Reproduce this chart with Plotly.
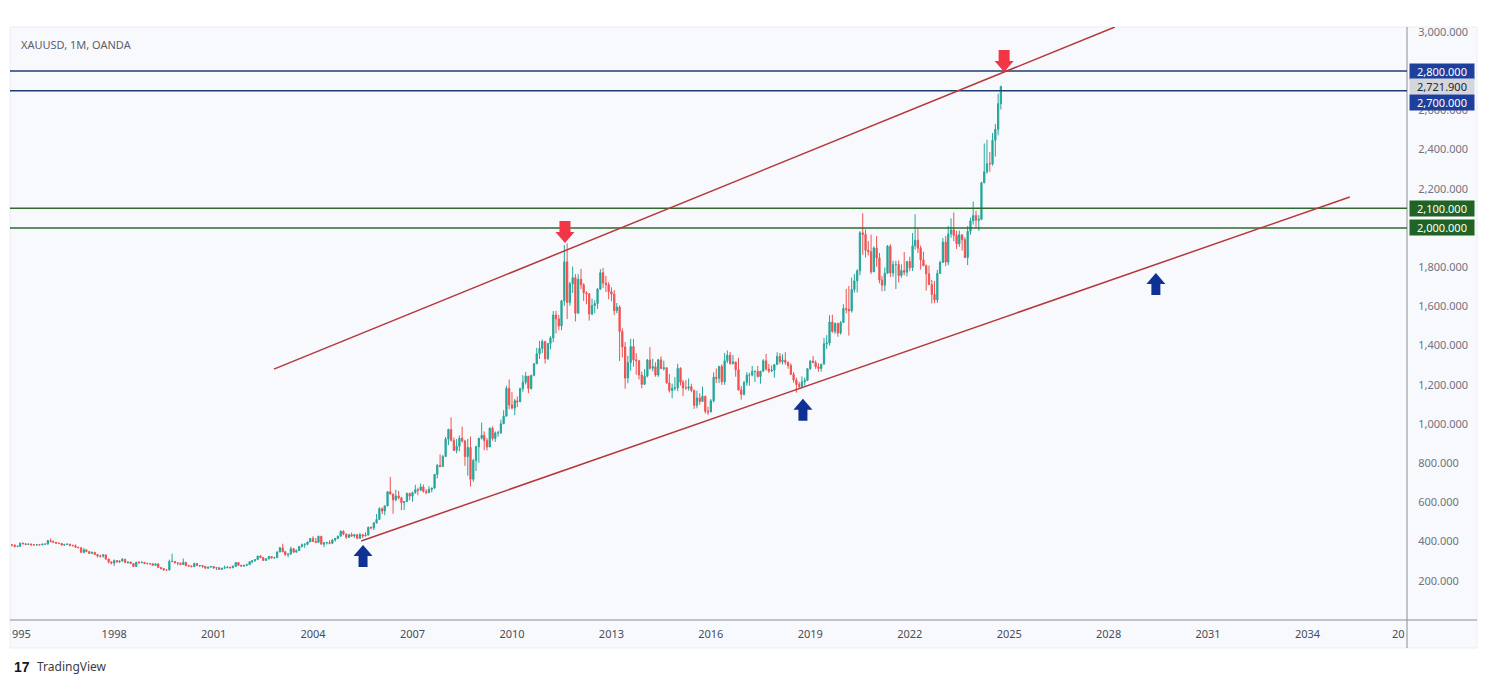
import pandas as pd
import plotly.graph_objects as go

# monthly XAUUSD candles, Nov 1994 .. Oct 2024 (open = previous close)
first_open = 384
close_px = [
    383, 383,
    375, 376, 391, 389, 385, 387, 383, 383, 384, 383, 387, 387,
    405, 400, 396, 392, 391, 382, 385, 387, 379, 379, 371, 369,
    345, 358, 349, 340, 345, 334, 326, 325, 332, 311, 296, 290,
    303, 297, 301, 310, 293, 296, 288, 273, 294, 292, 294, 288,
    287, 287, 279, 286, 268, 262, 255, 255, 299, 299, 292, 290,
    283, 294, 277, 275, 272, 288, 277, 278, 273, 264, 270, 273,
    265, 267, 258, 264, 267, 270, 266, 273, 293, 279, 275, 279,
    282, 297, 302, 308, 326, 318, 304, 312, 324, 317, 318, 347,
    368, 348, 334, 336, 364, 346, 354, 375, 384, 386, 398, 416,
    400, 396, 427, 387, 394, 395, 391, 408, 416, 428, 453, 438,
    422, 435, 428, 435, 417, 435, 429, 433, 473, 470, 495, 513,
    568, 556, 582, 654, 643, 613, 633, 623, 599, 604, 646, 632,
    650, 665, 662, 679, 656, 650, 666, 673, 743, 789, 783, 834,
    923, 972, 916, 865, 886, 928, 913, 833, 880, 718, 814, 884,
    927, 942, 916, 883, 978, 926, 954, 955, 1001, 1040, 1182, 1097,
    1081, 1118, 1113, 1180, 1213, 1244, 1181, 1248, 1307, 1358, 1385, 1421,
    1333, 1410, 1439, 1556, 1536, 1500, 1628, 1827, 1620, 1715, 1746, 1565,
    1738, 1710, 1669, 1664, 1561, 1604, 1614, 1688, 1772, 1719, 1711, 1675,
    1663, 1578, 1596, 1472, 1393, 1234, 1313, 1395, 1327, 1323, 1250, 1202,
    1244, 1326, 1284, 1292, 1250, 1327, 1282, 1287, 1210, 1171, 1182, 1184,
    1284, 1213, 1183, 1183, 1190, 1172, 1095, 1133, 1115, 1142, 1065, 1061,
    1118, 1238, 1233, 1293, 1215, 1322, 1351, 1309, 1316, 1277, 1173, 1151,
    1211, 1249, 1249, 1268, 1268, 1242, 1269, 1322, 1280, 1271, 1275, 1303,
    1345, 1318, 1325, 1315, 1298, 1253, 1224, 1201, 1192, 1215, 1222, 1282,
    1321, 1313, 1292, 1283, 1305, 1409, 1413, 1520, 1472, 1513, 1464, 1517,
    1589, 1585, 1577, 1686, 1730, 1781, 1975, 1967, 1886, 1879, 1776, 1898,
    1847, 1734, 1708, 1769, 1907, 1770, 1814, 1814, 1757, 1783, 1774, 1829,
    1797, 1909, 1937, 1897, 1837, 1807, 1766, 1711, 1661, 1633, 1768, 1824,
    1928, 1826, 1969, 1990, 1962, 1919, 1965, 1940, 1849, 1983, 2036, 2063,
    2039, 2044, 2230, 2286, 2327, 2326, 2447, 2503, 2634, 2721.9,
]
high_px = [
    389, 386,
    384, 380, 396, 396, 392, 391, 390, 388, 387, 386, 389, 389,
    409, 416, 406, 397, 395, 392, 389, 390, 388, 385, 385, 373,
    369, 367, 359, 352, 349, 345, 335, 333, 337, 335, 313, 298,
    309, 306, 303, 316, 311, 297, 298, 289, 298, 301, 300, 296,
    293, 291, 289, 290, 290, 269, 264, 259, 308, 338, 300, 293,
    292, 314, 295, 282, 278, 292, 291, 279, 278, 276, 271, 275,
    274, 269, 267, 266, 277, 274, 271, 279, 294, 293, 281, 281,
    287, 301, 304, 310, 327, 331, 322, 315, 327, 326, 323, 350,
    373, 389, 353, 341, 374, 365, 360, 376, 390, 392, 399, 417,
    427, 418, 430, 427, 395, 398, 407, 412, 419, 430, 456, 457,
    442, 439, 446, 439, 438, 444, 437, 447, 476, 478, 500, 541,
    575, 574, 584, 655, 730, 644, 664, 658, 628, 606, 650, 649,
    655, 690, 675, 696, 691, 667, 682, 675, 745, 796, 845, 842,
    934, 976, 1034, 931, 923, 941, 987, 918, 924, 936, 823, 889,
    929, 1007, 962, 928, 982, 988, 962, 965, 1022, 1070, 1195, 1227,
    1162, 1128, 1141, 1185, 1249, 1265, 1245, 1251, 1310, 1388, 1424, 1431,
    1424, 1412, 1448, 1576, 1577, 1556, 1632, 1913, 1921, 1725, 1803, 1764,
    1764, 1791, 1718, 1677, 1668, 1640, 1631, 1693, 1790, 1796, 1755, 1723,
    1697, 1683, 1617, 1605, 1488, 1418, 1348, 1434, 1434, 1361, 1325, 1267,
    1280, 1332, 1392, 1332, 1315, 1332, 1345, 1323, 1287, 1255, 1206, 1239,
    1307, 1289, 1224, 1224, 1232, 1205, 1174, 1170, 1157, 1191, 1142, 1088,
    1127, 1263, 1283, 1297, 1304, 1362, 1375, 1367, 1352, 1318, 1338, 1193,
    1220, 1264, 1261, 1296, 1273, 1296, 1271, 1331, 1358, 1306, 1299, 1306,
    1366, 1362, 1356, 1366, 1318, 1309, 1265, 1237, 1214, 1243, 1237, 1284,
    1326, 1347, 1324, 1310, 1306, 1439, 1453, 1555, 1557, 1517, 1516, 1525,
    1611, 1689, 1704, 1747, 1765, 1789, 1984, 2075, 1992, 1933, 1966, 1906,
    1959, 1872, 1755, 1798, 1913, 1917, 1833, 1832, 1834, 1814, 1877, 1831,
    1853, 1974, 2070, 1998, 1910, 1879, 1814, 1808, 1735, 1730, 1786, 1833,
    1949, 1959, 2009, 2049, 2079, 1985, 1987, 1949, 1953, 2009, 2052, 2135,
    2088, 2065, 2236, 2431, 2450, 2387, 2484, 2531, 2685, 2725,
]
low_px = [
    380, 375,
    370, 371, 372, 386, 382, 385, 381, 380, 381, 381, 382, 384,
    386, 397, 394, 389, 389, 380, 381, 384, 378, 377, 369, 366,
    342, 340, 347, 337, 337, 334, 318, 318, 319, 306, 289, 284,
    276, 292, 291, 299, 292, 287, 287, 272, 273, 287, 291, 285,
    284, 284, 278, 278, 266, 258, 252, 251, 253, 295, 288, 279,
    280, 283, 276, 272, 270, 271, 276, 270, 266, 263, 263, 267,
    262, 255, 255, 256, 262, 264, 264, 265, 271, 277, 271, 272,
    276, 281, 288, 297, 306, 315, 302, 301, 309, 313, 313, 317,
    346, 346, 326, 320, 334, 343, 343, 352, 370, 368, 381, 397,
    398, 392, 393, 385, 371, 385, 386, 387, 400, 413, 424, 432,
    414, 418, 425, 419, 413, 414, 418, 426, 432, 463, 459, 492,
    513, 540, 535, 580, 639, 542, 605, 616, 560, 561, 603, 611,
    603, 644, 636, 660, 650, 642, 647, 651, 669, 722, 779, 781,
    834, 892, 911, 862, 850, 860, 905, 786, 736, 681, 705, 760,
    802, 921, 866, 865, 884, 915, 908, 935, 949, 1000, 1039, 1075,
    1074, 1045, 1086, 1113, 1164, 1201, 1157, 1175, 1243, 1307, 1332, 1361,
    1308, 1326, 1381, 1417, 1462, 1478, 1478, 1603, 1535, 1603, 1668, 1523,
    1563, 1688, 1627, 1611, 1527, 1555, 1565, 1587, 1684, 1694, 1673, 1636,
    1626, 1555, 1565, 1321, 1339, 1180, 1208, 1271, 1292, 1251, 1227, 1182,
    1202, 1238, 1277, 1268, 1241, 1240, 1281, 1273, 1205, 1160, 1131, 1170,
    1167, 1196, 1142, 1175, 1170, 1162, 1077, 1080, 1098, 1111, 1053, 1046,
    1061, 1110, 1208, 1208, 1199, 1200, 1310, 1302, 1303, 1241, 1171, 1124,
    1146, 1195, 1195, 1243, 1214, 1237, 1205, 1266, 1273, 1260, 1264, 1236,
    1302, 1307, 1303, 1302, 1282, 1251, 1211, 1160, 1180, 1182, 1196, 1221,
    1276, 1311, 1281, 1266, 1267, 1305, 1382, 1400, 1465, 1459, 1445, 1456,
    1517, 1564, 1451, 1568, 1670, 1671, 1758, 1863, 1849, 1860, 1764, 1776,
    1802, 1717, 1677, 1678, 1766, 1750, 1751, 1688, 1722, 1746, 1758, 1753,
    1780, 1780, 1890, 1872, 1787, 1805, 1681, 1709, 1615, 1617, 1617, 1765,
    1823, 1805, 1810, 1950, 1932, 1893, 1903, 1885, 1846, 1810, 1965, 2017,
    2002, 1985, 2039, 2229, 2277, 2287, 2318, 2364, 2472, 2604,
]
open_px = [first_open] + close_px[:-1]
months = pd.date_range("1994-11-01", periods=len(close_px), freq="MS")

# drawn levels and trend channel
blue_levels = [2800, 2700]
green_levels = [2100, 2000]
upper_trend = [("2002-10-27", 1280), ("2028-03-10", 3025)]
lower_trend = [("2005-06-14", 403), ("2035-04-12", 2158)]
red_arrows = [("2011-08-08", 1923), ("2024-11-06", 2796)]
blue_arrows = [("2005-07-05", 383), ("2018-10-12", 1128), ("2029-06-05", 1770)]

year_ticks = list(range(1998, 2035, 3))
price_ticks = [200, 400, 600, 800, 1000, 1200, 1400, 1600, 1800, 2200, 2400, 2600, 3000]

FONT = "Noto Sans"
BG = "#f8f9fd"

fig = go.Figure()
fig.add_trace(go.Candlestick(
    x=months, open=open_px, high=high_px, low=low_px, close=close_px,
    increasing=dict(line=dict(color="#26a69a", width=1), fillcolor="#26a69a"),
    decreasing=dict(line=dict(color="#ef5350", width=1), fillcolor="#ef5350"),
    whiskerwidth=0, hoverinfo="skip", showlegend=False,
))

shapes = []
# panel background that also covers the axis strips
shapes.append(dict(type="rect", xref="paper", yref="paper", x0=0, x1=1.0501,
                   y0=-0.0472, y1=1, fillcolor=BG, line=dict(color="#eceef3", width=1),
                   layer="below"))
shapes.append(dict(type="line", xref="paper", yref="paper", x0=1, x1=1, y0=-0.0472, y1=1,
                   line=dict(color="#8a8d94", width=1)))
shapes.append(dict(type="line", xref="paper", yref="paper", x0=0, x1=1.0501, y0=0, y1=0,
                   line=dict(color="#8a8d94", width=1)))

for lv in blue_levels:
    shapes.append(dict(type="line", xref="x domain", yref="y", x0=0, x1=1, y0=lv, y1=lv,
                       line=dict(color="#1f3c70", width=1.5)))
for lv in green_levels:
    shapes.append(dict(type="line", xref="x domain", yref="y", x0=0, x1=1, y0=lv, y1=lv,
                       line=dict(color="#2c6a2e", width=1.5)))
for tr in (upper_trend, lower_trend):
    shapes.append(dict(type="line", xref="x", yref="y", x0=tr[0][0], y0=tr[0][1],
                       x1=tr[1][0], y1=tr[1][1], line=dict(color="#b5373a", width=1.5)))

down_path = "M -5.5,22 L 5.5,22 L 5.5,11 L 9.5,11 L 0,0 L -9.5,11 L -5.5,11 Z"
up_path = "M 0,0 L 9.5,-11 L 4.5,-11 L 4.5,-22 L -4.5,-22 L -4.5,-11 L -9.5,-11 Z"
for d, p in red_arrows:
    shapes.append(dict(type="path", xref="x", yref="y", xsizemode="pixel", ysizemode="pixel",
                       xanchor=d, yanchor=p, path=down_path, fillcolor="#f23645",
                       line=dict(width=0)))
for d, p in blue_arrows:
    shapes.append(dict(type="path", xref="x", yref="y", xsizemode="pixel", ysizemode="pixel",
                       xanchor=d, yanchor=p, path=up_path, fillcolor="#0e3193",
                       line=dict(width=0)))

annotations = []
label_boxes = [
    (2800, "2,800.000", "#1e3f9c", "white", 0),
    (2721.9, "2,721.900", "#d4d6dc", "#202430", 0),
    (2700, "2,700.000", "#1e3f9c", "white", -12),
    (2100, "2,100.000", "#1f6424", "white", 0),
    (2000, "2,000.000", "#1f6424", "white", 0),
]
for val, txt, bg, fg, shift in label_boxes:
    annotations.append(dict(xref="paper", yref="y", x=1.0014, y=val, xanchor="left",
                            yanchor="middle", yshift=shift, text=txt, showarrow=False,
                            bgcolor=bg, width=62, height=13, borderpad=1, align="center",
                            font=dict(family=FONT, size=11, color=fg)))

annotations.append(dict(xref="paper", yref="paper", x=0.0064, y=0.971, xanchor="left",
                        yanchor="middle", text="XAUUSD, 1M, OANDA", showarrow=False,
                        font=dict(family=FONT, size=11, color="#5d606b")))
annotations.append(dict(xref="paper", yref="paper", x=0, y=-0.022, xanchor="left",
                        yanchor="middle", text="995", showarrow=False,
                        font=dict(family=FONT, size=11, color="#4a4d56")))
annotations.append(dict(xref="paper", yref="paper", x=1, y=-0.022, xanchor="right",
                        yanchor="middle", text="20", showarrow=False,
                        font=dict(family=FONT, size=11, color="#4a4d56")))
annotations.append(dict(xref="paper", yref="paper", x=0.0014, y=-0.079, xanchor="left",
                        yanchor="middle", text="<b>17</b>", showarrow=False,
                        font=dict(family="Liberation Sans", size=14, color="#131722")))
annotations.append(dict(xref="paper", yref="paper", x=0.0179, y=-0.079, xanchor="left",
                        yanchor="middle", text="TradingView", showarrow=False,
                        font=dict(family=FONT, size=12, color="#3a3d46")))

# the page body adds an 8px offset, so the figure is sized to fit inside the window
fig.update_layout(
    width=1479, height=677,
    margin=dict(l=2, r=80, t=19, b=65),
    paper_bgcolor="white", plot_bgcolor=BG,
    shapes=shapes, annotations=annotations,
    showlegend=False, hovermode=False,
)
fig.update_xaxes(
    type="date", range=["1994-11-10", "2037-01-01"],
    tickvals=[f"{y}-01-01" for y in year_ticks], ticktext=[str(y) for y in year_ticks],
    showgrid=False, zeroline=False, showline=False,
    ticks="outside", ticklen=4, tickcolor="rgba(0,0,0,0)",
    tickfont=dict(family=FONT, size=11, color="#4a4d56"),
    rangeslider=dict(visible=False), fixedrange=True,
)
fig.update_yaxes(
    side="right", range=[0, 3025], tickvals=price_ticks,
    tickformat=",.3f", showgrid=False, zeroline=False, showline=False,
    ticks="outside", ticklen=8, tickcolor="rgba(0,0,0,0)",
    tickfont=dict(family=FONT, size=11, color="#707380"), fixedrange=True,
)

fig.write_html("out.html")
